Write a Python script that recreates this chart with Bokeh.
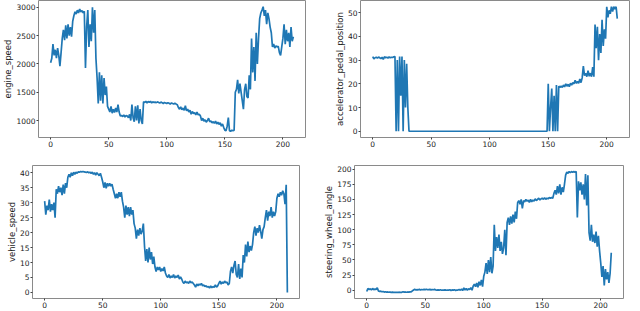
from bokeh.plotting import figure
from bokeh.layouts import column, row
from bokeh.models import Range1d, FixedTicker
from bokeh.embed import file_html
from bokeh.resources import INLINE

engine_speed = [
    2020, 2100, 2350, 2150, 2250, 2100, 2280, 2150, 1960, 2200,
    2450, 2600, 2420, 2680, 2450, 2700, 2500, 2650, 2480, 2750,
    2850, 2920, 2880, 2950, 2900, 2970, 2920, 2940, 2900, 2930,
    1930, 2650, 2950, 2300, 2700, 2400, 3000, 2550, 2950, 2100,
    1750, 1300, 1850, 1350, 1800, 1300, 1750, 1450, 1600, 1250,
    1200, 1150, 1250, 1130, 1200, 1140, 1220, 1150, 1280, 1150,
    1080, 1090, 1070, 1100, 1060, 1090, 1080, 1050, 1110, 1000,
    1280, 1050, 980, 1250, 1000, 1270, 950, 1200, 1000, 940,
    1330, 1320, 1340, 1310, 1335, 1320, 1340, 1310, 1330, 1320,
    1325, 1315, 1330, 1320, 1310, 1325, 1315, 1300, 1320, 1310,
    1300, 1315, 1305, 1290, 1310, 1300, 1290, 1305, 1290, 1280,
    1230, 1200, 1240, 1190, 1220, 1180, 1260, 1170, 1200, 1150,
    1180, 1110, 1160, 1120, 1140, 1100, 1150, 1100, 1110, 1080,
    1000, 1040, 990, 1010, 970, 1000, 1040, 980, 990, 960,
    980, 950, 990, 940, 970, 930, 960, 900, 940, 880,
    830, 820, 900, 1050, 820, 810, 830, 820, 830, 1500,
    1550, 1720, 1480, 1650, 1500, 1350, 1200, 1550, 1650, 1420,
    1400, 1800, 1550, 2450, 1850, 2300, 1700, 2550, 2000, 2450,
    2800, 2900, 2950, 3010, 2850, 2950, 2700, 2900, 2800, 2650,
    2550, 2300, 2350, 2280, 2320, 2300, 2310, 2200, 2150, 2300,
    2450, 2700, 2350, 2600, 2400, 2550, 2300, 2650, 2400, 2480,
]

accelerator_pedal_position = [
    31.5, 30.5, 31, 31.2, 30.8, 31.3, 31, 30.6, 31.2, 30.3,
    31.4, 31, 31.2, 30.9, 31.3, 31, 31.2, 31.1, 31.4, 31.5,
    0, 30, 0, 31.5, 15, 31.5, 0, 30, 10, 28.5,
    10, 0, 0, 0, 0, 0, 0, 0, 0, 0,
    0, 0, 0, 0, 0, 0, 0, 0, 0, 0,
    0, 0, 0, 0, 0, 0, 0, 0, 0, 0,
    0, 0, 0, 0, 0, 0, 0, 0, 0, 0,
    0, 0, 0, 0, 0, 0, 0, 0, 0, 0,
    0, 0, 0, 0, 0, 0, 0, 0, 0, 0,
    0, 0, 0, 0, 0, 0, 0, 0, 0, 0,
    0, 0, 0, 0, 0, 0, 0, 0, 0, 0,
    0, 0, 0, 0, 0, 0, 0, 0, 0, 0,
    0, 0, 0, 0, 0, 0, 0, 0, 0, 0,
    0, 0, 0, 0, 0, 0, 0, 0, 0, 0,
    0, 0, 0, 0, 0, 0, 0, 0, 0, 0,
    20, 0, 10, 18, 0, 15, 0, 19.5, 0, 19,
    18.5, 19, 18.5, 19.5, 18.7, 20, 19, 19.8, 18.8, 20.2,
    19.5, 20.5, 20, 21.5, 20.2, 21, 20.2, 22, 20.5, 22.5,
    27.5, 23.5, 24.5, 23, 25.5, 23.2, 24.5, 23, 27, 23,
    45, 35, 44, 30, 41, 33, 47, 36, 43, 39,
    52.5, 48, 51, 49.5, 52.5, 50.5, 52.5, 51.5, 52.5, 47.5,
]

vehicle_speed = [
    30.5, 26, 29, 27.5, 31, 27, 29.5, 27.5, 30, 25,
    34.5, 33, 35.5, 33.5, 35, 32.5, 36, 33, 36.5, 35,
    38.5, 39.5, 38.5, 40, 39, 40.2, 39.5, 40.2, 39.8, 40.3,
    40.2, 40.4, 40.3, 40.4, 40.3, 40.2, 40.1, 40.3, 40, 40.2,
    39.8, 40.2, 39.5, 40, 39.2, 40, 39.5, 39, 39.8, 38.5,
    37, 35, 36.8, 34.8, 36.5, 35.5, 36.5, 35.5, 36.2, 34.5,
    33, 31.5, 33, 31.5, 33.5, 32, 33.5, 30.5, 28.5, 25,
    29, 26, 28.5, 25.5, 28.5, 26, 27.5, 23, 21.5, 18,
    21, 19, 21.5, 19.5, 20.5, 23, 15.5, 10.5, 14.5, 10,
    15, 11, 13.5, 9.5, 12, 8.5, 7, 8.5, 7.5, 8.5,
    7, 8, 7.2, 8.5, 6.5, 5.5, 5, 6, 4.8, 5.5,
    5, 6, 4.8, 5.5, 5, 5.8, 4.5, 5.2, 4.5, 3.5,
    3, 3.8, 3.2, 3.5, 3, 3.8, 3.2, 3.5, 3, 2.5,
    1.8, 2.8, 2.2, 2.8, 2.5, 3, 2.2, 2.5, 2, 2.2,
    1.8, 2, 1.5, 2.2, 1.6, 2, 1.7, 2.5, 1.8, 2.2,
    3, 3.8, 2.8, 3.5, 3, 3.8, 3.2, 3.5, 2.5, 3,
    7, 8.5, 6.5, 9, 10.5, 6, 5, 9.5, 4.5, 8,
    5, 12.5, 10, 16, 12, 17, 13.5, 15.5, 14, 16,
    20, 22, 19, 21.5, 20, 22.5, 20.5, 18, 21, 22,
    25, 27.5, 24, 27, 25.5, 28.5, 25, 27, 25.5, 27,
    31.5, 33, 32, 33.5, 32.5, 34, 33, 29.5, 36, 0,
]

steering_wheel_angle = [
    -2, 3, 1, 2.5, 0.5, 3, 1, 2, 1.5, 4,
    -1, -2, -1.5, -2.5, -2, -3, -2.5, -3, -2.8, -3.2,
    -3, -3.5, -3.2, -3.5, -3.3, -3.6, -3.4, -3.5, -3.2, -3.6,
    -3.4, -2.5, -3, -2.8, -3.2, -2.8, -3, -2.6, -2.8, -1,
    0.5, 1.5, 0.5, 1, 0.8, 1.5, 0.6, 1.2, 0.8, 1.5,
    1, 1.8, 0.8, 1.2, 1.5, 0.7, 1.3, 0.9, 1.5, 0.5,
    0.2, 0.6, 0.3, 0.8, 0, 0.5, 0.2, 0.7, 0, 0.4,
    0.1, 0.8, -0.5, 0.6, 0.2, 1, -0.5, 0.5, 0.3, 1.2,
    0, 2, -0.5, 4, 0.5, 3, 0, 2.5, 1, 4.5,
    0, 7, 10, 6, 12, 5, 14, 8, 17, 6,
    23, 30, 45, 27, 50, 30, 55, 28, 40, 108,
    65, 88, 70, 92, 65, 80, 60, 70, 100, 58,
    112, 120, 108, 122, 110, 125, 112, 130, 118, 145,
    148, 142, 150, 135, 148, 146, 150, 147, 149, 145,
    150, 146, 149, 147, 151, 148, 150, 152, 149, 151,
    152, 150, 153, 150, 152, 151, 153, 152, 153, 152,
    160, 165, 158, 172, 160, 175, 158, 170, 162, 175,
    190, 195, 193, 196, 194, 196, 195, 196, 195, 196,
    120, 180, 165, 178, 158, 175, 150, 192, 140, 190,
    95, 82, 108, 80, 92, 78, 97, 72, 90, 65,
    45, 22, 40, 8, 35, 18, 30, 12, 28, 62,
]

x_ticks = [0, 50, 100, 150, 200]
es_ticks = [1000, 1500, 2000, 2500, 3000]
ap_ticks = [0, 10, 20, 30, 40, 50]
vs_ticks = [0, 5, 10, 15, 20, 25, 30, 35, 40]
sw_ticks = [0, 25, 50, 75, 100, 125, 150, 175, 200]

LINE = "#1f77b4"
FONT = "DejaVu Sans"


def padded(vals):
    lo, hi = min(vals), max(vals)
    m = 0.05 * (hi - lo)
    return Range1d(lo - m, hi + m)


def make(values, label, yticks, w, h, fw, fh, bl, br, bt, bb):
    xs = list(range(len(values)))
    p = figure(width=w, height=h, frame_width=fw, frame_height=fh,
               title=None, output_backend="svg", toolbar_location=None,
               x_range=padded(xs), y_range=padded(values),
               min_border_left=bl, min_border_right=br,
               min_border_top=bt, min_border_bottom=bb)
    p.line(xs, values, line_color=LINE, line_width=1.7)
    p.grid.visible = False
    p.outline_line_color = "#8a8a8a"
    p.outline_line_width = 1
    p.background_fill_color = "white"
    p.border_fill_color = "white"
    p.xaxis.ticker = FixedTicker(ticks=x_ticks)
    p.yaxis.ticker = FixedTicker(ticks=yticks)
    p.yaxis.axis_label = label
    for ax in (p.xaxis[0], p.yaxis[0]):
        ax.axis_line_color = None
        ax.major_tick_line_color = "#444444"
        ax.major_tick_out = 2
        ax.major_tick_in = 0
        ax.minor_tick_line_color = None
        ax.major_label_text_font = FONT
        ax.major_label_text_font_size = "7.5px"
        ax.major_label_text_color = "#222222"
        ax.major_label_standoff = 1
        ax.axis_label_text_font = FONT
        ax.axis_label_text_font_size = "8.5px"
        ax.axis_label_text_font_style = "normal"
        ax.axis_label_text_color = "#222222"
        ax.axis_label_standoff = 0
    return p


p1 = make(engine_speed, "engine_speed", es_ticks, 312, 155, 267, 137, 32, 13, 0, 18)
p2 = make(accelerator_pedal_position, "accelerator_pedal_position", ap_ticks, 312, 155, 269, 137, 42, 1, 0, 18)
p3 = make(vehicle_speed, "vehicle_speed", vs_ticks, 312, 155, 267, 133, 32, 13, 10, 12)
p4 = make(steering_wheel_angle, "steering_wheel_angle", sw_ticks, 312, 155, 269, 133, 42, 1, 10, 12)

layout = column(row(p1, p2), row(p3, p4))
open("out.html", "w").write(file_html(layout, INLINE))
